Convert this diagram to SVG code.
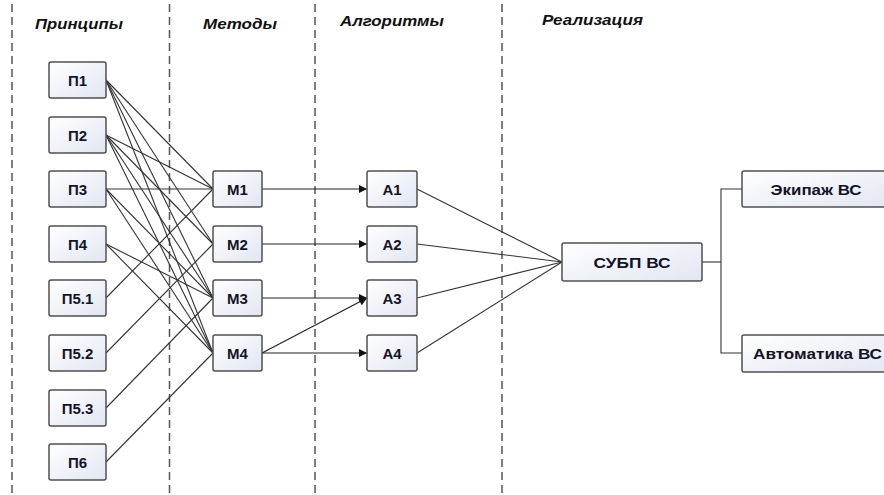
<svg xmlns="http://www.w3.org/2000/svg" width="884" height="495" viewBox="0 0 884 495">
<style>
.hdr{font-family:"Liberation Sans",Arial,sans-serif;font-weight:bold;font-style:italic;font-size:14px;fill:#111}
.box{fill:url(#g);stroke:#505050;stroke-width:1.5}
.lbl{font-family:"Liberation Sans",Arial,sans-serif;font-weight:bold;font-size:15px;fill:#141428;text-anchor:middle}
.sep{stroke:#555;stroke-width:1.5;stroke-dasharray:8 5;fill:none}
.ln{stroke:#333;stroke-width:1.1;fill:none}
.ar{stroke:#222;stroke-width:1.2;fill:none;marker-end:url(#ah)}
</style>
<defs>
<linearGradient id="g" x1="0" y1="0" x2="1" y2="1">
<stop offset="0" stop-color="#ffffff"/>
<stop offset="1" stop-color="#e2e6f2"/>
</linearGradient>
<marker id="ah" viewBox="0 0 10 10" refX="10" refY="5" markerWidth="10" markerHeight="8" markerUnits="userSpaceOnUse" orient="auto">
<path d="M0,0 L10,5 L0,10 z" fill="#111"/>
</marker>
</defs>
<rect width="884" height="495" fill="#fff"/>
<g id="separators">
<line class="sep" x1="12" y1="4" x2="12" y2="495"/>
<line class="sep" x1="169.5" y1="4" x2="169.5" y2="495"/>
<line class="sep" x1="315" y1="4" x2="315" y2="495"/>
<line class="sep" x1="502" y1="4" x2="502" y2="495"/>
</g>
<g id="headers">
<text class="hdr" x="35" y="29" textLength="88" lengthAdjust="spacingAndGlyphs">Принципы</text>
<text class="hdr" x="203" y="29" textLength="74" lengthAdjust="spacingAndGlyphs">Методы</text>
<text class="hdr" x="340" y="26" textLength="104" lengthAdjust="spacingAndGlyphs">Алгоритмы</text>
<text class="hdr" x="542" y="25" textLength="101" lengthAdjust="spacingAndGlyphs">Реализация</text>
</g>
<g id="connectors">
<line class="ln" x1="106" y1="80" x2="213" y2="189"/>
<line class="ln" x1="106" y1="80" x2="213" y2="244"/>
<line class="ln" x1="106" y1="80" x2="213" y2="298"/>
<line class="ln" x1="106" y1="80" x2="213" y2="353"/>
<line class="ln" x1="106" y1="135" x2="213" y2="189"/>
<line class="ln" x1="106" y1="135" x2="213" y2="244"/>
<line class="ln" x1="106" y1="135" x2="213" y2="298"/>
<line class="ln" x1="106" y1="135" x2="213" y2="353"/>
<line class="ln" x1="106" y1="189" x2="213" y2="189"/>
<line class="ln" x1="106" y1="189" x2="213" y2="298"/>
<line class="ln" x1="106" y1="189" x2="213" y2="353"/>
<line class="ln" x1="106" y1="244" x2="213" y2="298"/>
<line class="ln" x1="106" y1="244" x2="213" y2="353"/>
<line class="ln" x1="106" y1="298" x2="213" y2="189"/>
<line class="ln" x1="106" y1="353" x2="213" y2="244"/>
<line class="ln" x1="106" y1="408" x2="213" y2="298"/>
<line class="ln" x1="106" y1="462" x2="213" y2="353"/>
<line class="ar" x1="262" y1="189" x2="367" y2="189"/>
<line class="ar" x1="262" y1="244" x2="367" y2="244"/>
<line class="ar" x1="262" y1="298" x2="367" y2="298"/>
<line class="ar" x1="262" y1="353" x2="367" y2="353"/>
<line class="ar" x1="262" y1="353" x2="367" y2="298"/>
<line class="ln" x1="417" y1="189" x2="562" y2="262"/>
<line class="ln" x1="417" y1="244" x2="562" y2="262"/>
<line class="ln" x1="417" y1="298" x2="562" y2="262"/>
<line class="ln" x1="417" y1="353" x2="562" y2="262"/>
<polyline class="ln" points="702,262 721,262"/>
<polyline class="ln" points="742,189 721,189 721,353 742,353"/>
</g>
<g id="P1"><rect class="box" x="49" y="62" width="57" height="36" rx="2"/><text class="lbl" x="77.5" y="85.5">П1</text></g>
<g id="P2"><rect class="box" x="49" y="117" width="57" height="36" rx="2"/><text class="lbl" x="77.5" y="140.5">П2</text></g>
<g id="P3"><rect class="box" x="49" y="171" width="57" height="36" rx="2"/><text class="lbl" x="77.5" y="194.5">П3</text></g>
<g id="P4"><rect class="box" x="49" y="226" width="57" height="36" rx="2"/><text class="lbl" x="77.5" y="249.5">П4</text></g>
<g id="P51"><rect class="box" x="49" y="280" width="57" height="36" rx="2"/><text class="lbl" x="77.5" y="303.5">П5.1</text></g>
<g id="P52"><rect class="box" x="49" y="335" width="57" height="36" rx="2"/><text class="lbl" x="77.5" y="358.5">П5.2</text></g>
<g id="P53"><rect class="box" x="49" y="390" width="57" height="36" rx="2"/><text class="lbl" x="77.5" y="413.5">П5.3</text></g>
<g id="P6"><rect class="box" x="49" y="444" width="57" height="36" rx="2"/><text class="lbl" x="77.5" y="467.5">П6</text></g>
<g id="M1"><rect class="box" x="213" y="171" width="49" height="36" rx="2"/><text class="lbl" x="237.5" y="194.5">М1</text></g>
<g id="M2"><rect class="box" x="213" y="226" width="49" height="36" rx="2"/><text class="lbl" x="237.5" y="249.5">М2</text></g>
<g id="M3"><rect class="box" x="213" y="280" width="49" height="36" rx="2"/><text class="lbl" x="237.5" y="303.5">М3</text></g>
<g id="M4"><rect class="box" x="213" y="335" width="49" height="36" rx="2"/><text class="lbl" x="237.5" y="358.5">М4</text></g>
<g id="A1"><rect class="box" x="367" y="171" width="50" height="36" rx="2"/><text class="lbl" x="392" y="194.5">А1</text></g>
<g id="A2"><rect class="box" x="367" y="226" width="50" height="36" rx="2"/><text class="lbl" x="392" y="249.5">А2</text></g>
<g id="A3"><rect class="box" x="367" y="280" width="50" height="36" rx="2"/><text class="lbl" x="392" y="303.5">А3</text></g>
<g id="A4"><rect class="box" x="367" y="335" width="50" height="36" rx="2"/><text class="lbl" x="392" y="358.5">А4</text></g>
<g id="SUBP"><rect class="box" x="562" y="243" width="140" height="38" rx="2"/><text class="lbl" x="632" y="267.5" textLength="77" lengthAdjust="spacingAndGlyphs">СУБП ВС</text></g>
<g id="Crew"><rect class="box" x="742" y="171" width="152" height="36" rx="2"/><text class="lbl" x="816" y="194.5" textLength="91" lengthAdjust="spacingAndGlyphs">Экипаж ВС</text></g>
<g id="Auto"><rect class="box" x="742" y="335" width="152" height="37" rx="2"/><text class="lbl" x="817.5" y="358.5" textLength="129" lengthAdjust="spacingAndGlyphs">Автоматика ВС</text></g>
</svg>
